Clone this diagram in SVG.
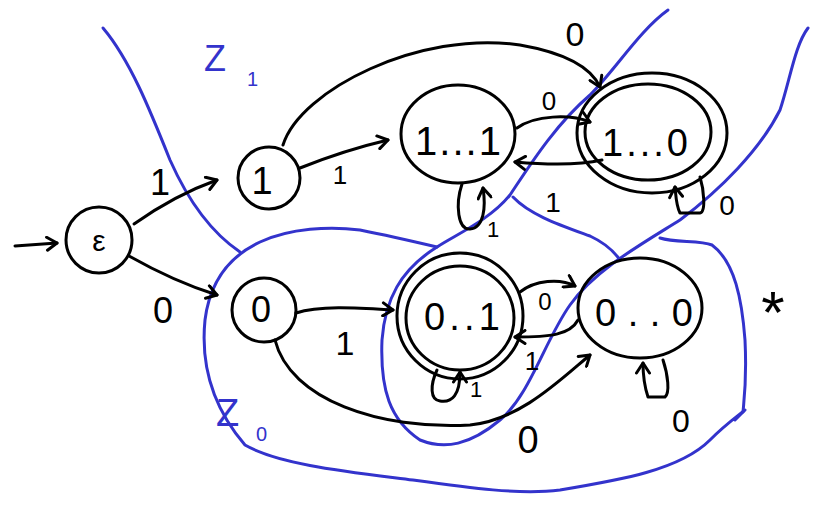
<svg xmlns="http://www.w3.org/2000/svg" width="817" height="508" viewBox="0 0 817 508">
<style>
.node{fill:none;stroke:#000;stroke-width:3}
.edge{fill:none;stroke:#000;stroke-width:3;stroke-linecap:round;stroke-linejoin:round}
.zone{fill:none;stroke:#3333cc;stroke-width:3;stroke-linecap:round;stroke-linejoin:round}
.lbl{font-family:"Liberation Sans",Arial,sans-serif;fill:#000;text-anchor:middle}
.zl{font-family:"Liberation Sans",Arial,sans-serif;fill:#3333cc}
</style>
<defs>
<marker id="arr" markerUnits="userSpaceOnUse" markerWidth="16" markerHeight="16" refX="13" refY="8" orient="auto">
<path d="M3,1.5 L13,8 L3,14.5" fill="none" stroke="#000" stroke-width="3" stroke-linecap="round" stroke-linejoin="round"/>
</marker>
</defs>
<rect width="817" height="508" fill="#fff"/>

<g id="zones">
<path class="zone" d="M103,28 C130,60 150,110 170,160 C190,205 215,235 240,252"/>
<path class="zone" d="M668,10 C640,30 615,70 590,95 C555,125 530,165 510,195 C490,220 455,235 437,247 C400,270 385,300 382,340 C380,390 390,420 420,440 C445,450 470,445 500,420 C530,395 545,340 570,305 C595,270 640,245 680,220 C720,190 760,150 780,110 C790,80 795,45 808,28"/>
<path class="zone" d="M513,197 C530,215 560,225 590,236 C605,243 613,250 620,260"/>
<path class="zone" d="M437,247 C420,243 390,236 360,230 C330,226 290,228 260,242 C230,256 210,280 205,320 C200,370 215,410 245,445 C280,465 350,472 413,480 C470,488 520,495 560,490 C620,480 680,470 710,440 C725,425 735,418 745,410 L735,420"/>
<path class="zone" d="M660,238 C675,243 700,240 712,245 C735,262 742,300 745,340 C747,380 744,400 743,412"/>
<text class="zl" x="204" y="71" font-size="36">Z</text>
<text class="zl" x="247" y="86" font-size="20">1</text>
<text class="zl" x="216" y="426" font-size="38">Z</text>
<text class="zl" x="256" y="441" font-size="20">0</text>
</g>

<g id="connectors">
<path class="edge" d="M15,246 L57,243" marker-end="url(#arr)"/>
<path class="edge" d="M134,224 Q175,195 217,180" marker-end="url(#arr)"/>
<path class="edge" d="M129,256 Q175,282 217,295" marker-end="url(#arr)"/>
<path class="edge" d="M300,168 Q345,150 388,140" marker-end="url(#arr)"/>
<path class="edge" d="M283,145 C300,90 420,30 520,45 C560,52 590,65 600,87" marker-end="url(#arr)"/>
<path class="edge" d="M517,128 C535,115 570,114 590,122" marker-end="url(#arr)"/>
<path class="edge" d="M602,160 C580,165 550,165 515,162" marker-end="url(#arr)"/>
<path class="edge" d="M462,184 C455,205 458,230 470,229 C484,228 486,207 483,188" marker-end="url(#arr)"/>
<path class="edge" d="M700,177 C704,190 706,212 700,213 L680,213 C676,205 676,196 675,187" marker-end="url(#arr)"/>
<path class="edge" d="M296,313 C320,305 360,308 393,310" marker-end="url(#arr)"/>
<path class="edge" d="M275,340 C290,400 380,430 470,425 C520,420 560,380 590,355" marker-end="url(#arr)"/>
<path class="edge" d="M520,292 C535,280 560,278 575,286" marker-end="url(#arr)"/>
<path class="edge" d="M578,320 C570,335 550,337 515,337" marker-end="url(#arr)"/>
<path class="edge" d="M437,370 C430,385 430,400 440,401 C452,403 460,395 460,372" marker-end="url(#arr)"/>
<path class="edge" d="M663,360 C668,375 670,393 665,397 L648,397 C644,385 643,375 643,363" marker-end="url(#arr)"/>
<text class="lbl" x="160" y="195" font-size="36">1</text>
<text class="lbl" x="163" y="323" font-size="36">0</text>
<text class="lbl" x="340" y="184" font-size="26">1</text>
<text class="lbl" x="575" y="46" font-size="34">0</text>
<text class="lbl" x="549" y="110" font-size="26">0</text>
<text class="lbl" x="553" y="212" font-size="28">1</text>
<text class="lbl" x="493" y="237" font-size="22">1</text>
<text class="lbl" x="727" y="215" font-size="28">0</text>
<text class="lbl" x="345" y="355" font-size="34">1</text>
<text class="lbl" x="528" y="453" font-size="38">0</text>
<text class="lbl" x="545" y="310" font-size="24">0</text>
<text class="lbl" x="532" y="370" font-size="26">1</text>
<text class="lbl" x="476" y="397" font-size="22">1</text>
<text class="lbl" x="681" y="432" font-size="32">0</text>
<text class="lbl" x="773" y="333" font-size="60">*</text>
</g>

<g id="n-eps">
<circle class="node" cx="99" cy="240" r="33"/>
<text class="lbl" x="99" y="251" font-size="30">ε</text>
</g>
<g id="n-1">
<circle class="node" cx="269" cy="178" r="31"/>
<text class="lbl" x="262" y="194" font-size="38">1</text>
</g>
<g id="n-11">
<ellipse class="node" cx="458" cy="134" rx="57" ry="49"/>
<text class="lbl" x="458" y="155" font-size="40" textLength="86" lengthAdjust="spacing">1...1</text>
</g>
<g id="n-10">
<ellipse class="node" cx="648" cy="132" rx="63" ry="48"/>
<ellipse class="node" cx="652" cy="133" rx="75" ry="60"/>
<text class="lbl" x="645" y="156" font-size="38" textLength="86" lengthAdjust="spacing">1...0</text>
</g>
<g id="n-0">
<circle class="node" cx="264" cy="310" r="32"/>
<text class="lbl" x="261" y="322" font-size="36">0</text>
</g>
<g id="n-01">
<ellipse class="node" cx="460" cy="318" rx="54" ry="52"/>
<circle class="node" cx="460" cy="316" r="63"/>
<text class="lbl" x="462" y="330" font-size="38" textLength="76" lengthAdjust="spacing">0..1</text>
</g>
<g id="n-00">
<ellipse class="node" cx="640" cy="308" rx="62" ry="50"/>
<text class="lbl" x="644" y="326" font-size="38" textLength="98" lengthAdjust="spacing">0..0</text>
</g>
</svg>
